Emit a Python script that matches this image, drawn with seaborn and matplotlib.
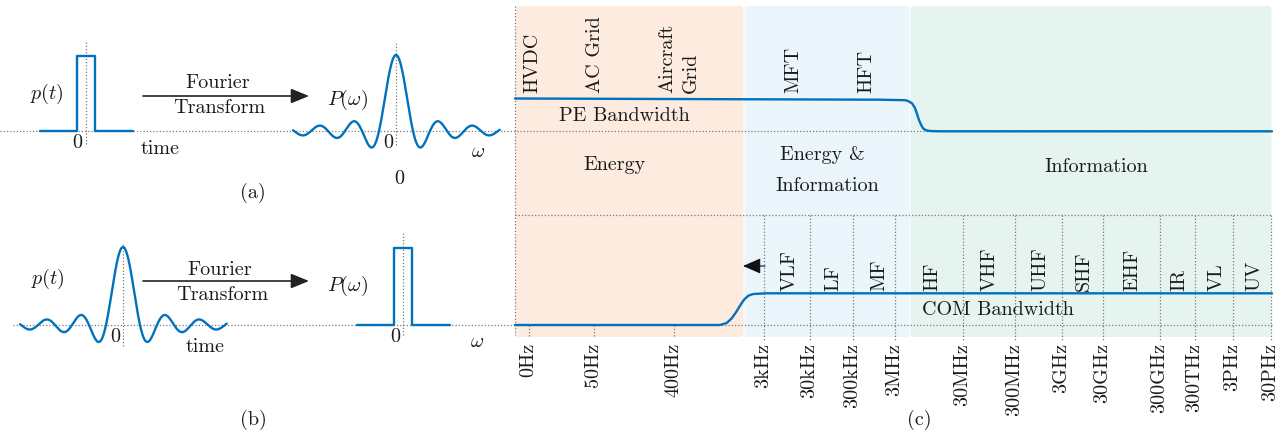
import numpy as np
import matplotlib
matplotlib.use("Agg")
import matplotlib.pyplot as plt
import seaborn as sns
from matplotlib.patches import FancyBboxPatch

# ---------------- data ----------------
# rectangular pulse (unit half-width) and its Fourier transform (sinc)
pulse_t = [-5.1, -1.0, -1.0, 1.0, 1.0, 5.2]
pulse_amp = [0, 0, 1, 1, 0, 0]
sinc_span = [-6.06, 6.10]

# panel (c): schematic frequency axis
freq_labels = ['0Hz', '50Hz', '400Hz', '3kHz', '30kHz', '300kHz', '3MHz', '30MHz',
               '300MHz', '3GHz', '30GHz', '300GHz', '300THz', '3PHz', '30PHz']
freq_pos = [529, 594, 674, 764, 810, 853, 895, 963, 1015, 1062, 1103, 1160, 1195, 1233, 1271]

band_labels = ['VLF', 'LF', 'MF', 'HF', 'VHF', 'UHF', 'SHF', 'EHF', 'IR', 'VL', 'UV']
band_pos = [790, 833, 879, 932, 990, 1040, 1084, 1132, 1179, 1217, 1254]

pe_apps = ['HVDC', 'AC Grid', 'Aircraft\nGrid', 'MFT', 'HFT']
pe_app_pos = [532, 595, 679, 793, 866]

region_names = ['Energy', 'Energy &\nInformation', 'Information']
region_edges = [515, 744, 910, 1272]
region_colors = ['#fdebdf', '#eaf5fc', '#e6f4ef']

# PE bandwidth curve
pe_x = [515, 880, 905, 908, 912, 915, 917, 919, 921, 923, 926, 930, 940, 1272]
pe_y = [99.5, 100.7, 101.2, 102.0, 104.3, 109.0, 115.0, 121.0, 125.7, 129.3, 131.3, 132.0, 132.3, 132.3]

# COM bandwidth curve
com_x = [515, 720, 726.7, 731.7, 736, 740, 744, 748.3, 753.3, 766.7, 1272]
com_y = [326, 326, 324, 319.3, 313.3, 306.7, 300.7, 296.7, 295, 294.3, 294.3]

# ---------------- style ----------------
sns.set_style("white")
plt.rcParams['font.family'] = ['cmr10']
plt.rcParams['mathtext.fontset'] = 'cm'
plt.rcParams['axes.formatter.use_mathtext'] = True

W, H = 1288, 435
FS = 14.5
BLUE = '#0072BD'
DOT = dict(color='#7a7a7a', lw=0.9, ls=(0, (1, 1.6)))
LW = 1.7

fig = plt.figure(figsize=(W / 100, H / 100), dpi=100)
ax = fig.add_axes([0, 0, 1, 1])
ax.set_xlim(0, W)
ax.set_ylim(H, 0)
ax.set_axis_off()


def mini_axes(box, origin, scale):
    x0, y0, x1, y1 = box
    m = fig.add_axes([x0 / W, 1 - y1 / H, (x1 - x0) / W, (y1 - y0) / H])
    ox, oy = origin
    sx, sy = scale
    m.set_xlim((x0 - ox) / sx, (x1 - ox) / sx)
    m.set_ylim((oy - y1) / sy, (oy - y0) / sy)
    m.set_axis_off()
    m.patch.set_alpha(0)
    return m


def txt(x, y, s, **kw):
    kw.setdefault('ha', 'center')
    kw.setdefault('va', 'center')
    kw.setdefault('fontsize', FS)
    ax.text(x, y, s, color='#1a1a1a', zorder=5, **kw)


# ---------------- panel (c) ----------------
for x0, x1, c in zip(region_edges[:-1], region_edges[1:], region_colors):
    ax.add_patch(FancyBboxPatch((x0 + 0.5, 7), x1 - x0 - 1, 331,
                                boxstyle='round,pad=0,rounding_size=3',
                                fc=c, ec='none', zorder=0))

# dotted guides
ax.plot([0, 1272], [132, 132], zorder=1, **DOT)
ax.plot([13, 1272], [326, 326], zorder=1, **DOT)
ax.plot([515, 1272], [216, 216], zorder=1, **DOT)
ax.plot([515, 515], [7, 336], zorder=1, **DOT)
for lab, p in zip(freq_labels, freq_pos):
    if p < region_edges[1]:
        ax.plot([p, p], [326, 338], zorder=1, **DOT)
    else:
        ax.plot([p, p], [216, 341], zorder=1, **DOT)
    txt(p - 1, 343, lab, rotation=90, va='top')

sns.lineplot(x=pe_x, y=pe_y, ax=ax, color=BLUE, linewidth=LW, estimator=None, sort=False, zorder=3)
sns.lineplot(x=com_x, y=com_y, ax=ax, color=BLUE, linewidth=LW, estimator=None, sort=False, zorder=3)

for lab, p in zip(band_labels, band_pos):
    txt(p, 291, lab, rotation=90, va='bottom')
for lab, p in zip(pe_apps, pe_app_pos):
    txt(p, 93, lab, rotation=90, va='bottom', multialignment='left', linespacing=1.4)

txt(624, 116, 'PE Bandwidth')
txt(998, 310, 'COM Bandwidth')
txt(614, 165, region_names[0])
txt(822, 155, 'Energy &')
txt(827, 186, 'Information')
txt(1096, 167, region_names[2])

ax.annotate('', xy=(743, 267), xytext=(765, 267),
            arrowprops=dict(arrowstyle='-|>,head_length=1.1,head_width=0.48',
                            mutation_scale=10, color='#111111', lw=0.8,
                            shrinkA=0, shrinkB=0), zorder=4)

txt(919, 420, '(c)')

# ---------------- panels (a) and (b) ----------------
omega = np.linspace(sinc_span[0], sinc_span[1], 600)
sinc_amp = np.sinc(omega)   # Fourier transform of the unit rectangular pulse

ma1 = mini_axes((30, 40, 140, 150), (86, 132), (9, 75))
sns.lineplot(x=pulse_t, y=pulse_amp, ax=ma1, color=BLUE, linewidth=LW, estimator=None, sort=False)
ma2 = mini_axes((285, 40, 505, 160), (396, 132), (17, 76))
sns.lineplot(x=omega, y=sinc_amp, ax=ma2, color=BLUE, linewidth=LW, estimator=None, sort=False)
mb1 = mini_axes((10, 235, 235, 355), (123, 326), (17, 78))
sns.lineplot(x=omega, y=sinc_amp, ax=mb1, color=BLUE, linewidth=LW, estimator=None, sort=False)
mb2 = mini_axes((350, 230, 460, 340), (403, 326), (9, 77))
sns.lineplot(x=pulse_t, y=pulse_amp, ax=mb2, color=BLUE, linewidth=LW, estimator=None, sort=False)

# vertical dotted lines at t = 0 / omega = 0
ax.plot([86, 86], [43, 145], zorder=1, **DOT)
ax.plot([396, 396], [44, 147], zorder=1, **DOT)
ax.plot([123, 123], [245, 347], zorder=1, **DOT)
ax.plot([403, 403], [234, 337], zorder=1, **DOT)

for y in (97, 282):
    ax.annotate('', xy=(309, y), xytext=(143, y),
                arrowprops=dict(arrowstyle='-|>,head_length=1.1,head_width=0.45',
                                mutation_scale=10, color='#222222', lw=1.2,
                                shrinkA=0, shrinkB=0))

# texts (a)
txt(218, 83, 'Fourier')
txt(219, 108, 'Transform')
txt(47, 94, r'$p(t)$')
txt(77, 143, '0')
txt(160, 149, 'time')
txt(348, 100, r'$P(\omega)$')
txt(388, 143, '0')
txt(478, 152, r'$\omega$')
txt(399, 179, '0')
txt(253, 193, '(a)')

# texts (b)
txt(220, 270, 'Fourier')
txt(222, 295, 'Transform')
txt(48, 279, r'$p(t)$')
txt(115, 337, '0')
txt(205, 347, 'time')
txt(348, 286, r'$P(\omega)$')
txt(395, 337, '0')
txt(477, 342, r'$\omega$')
txt(253, 420, '(b)')

fig.savefig('out.png', dpi=100)
